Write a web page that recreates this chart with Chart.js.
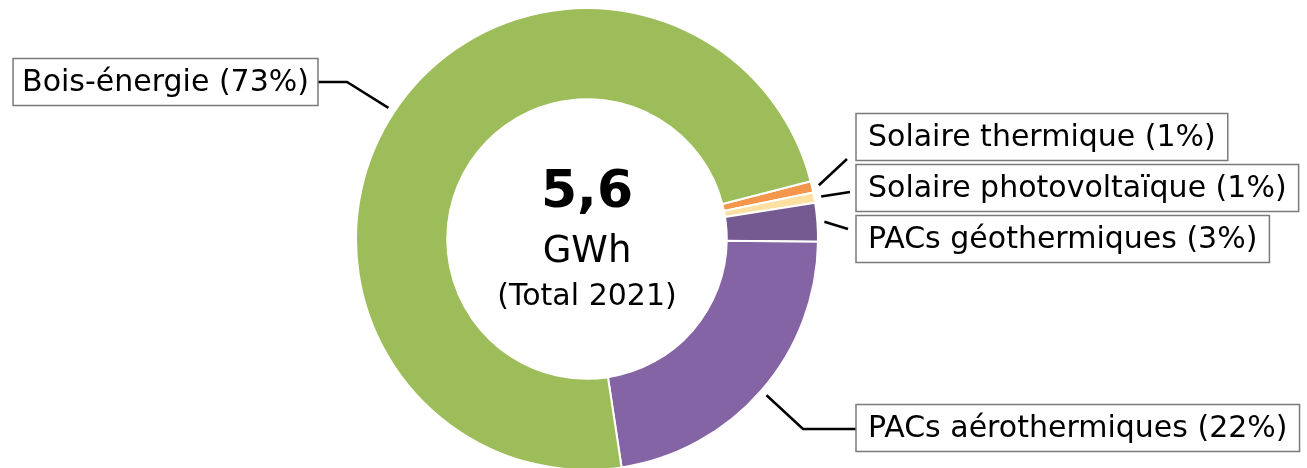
<!DOCTYPE html>
<html>
<head>
<meta charset="utf-8">
<script src="https://cdn.jsdelivr.net/npm/chart.js@4.4.0/dist/chart.umd.min.js"></script>
<style>
	html, body { margin: 0; padding: 0; background: #fff; }
	#wrap { width: 1307px; height: 468px; }
</style>
</head>
<body>
<div id="wrap"><canvas id="myChart" width="1307" height="468"></canvas></div>
<script>
// energy mix, 2021 (GWh) - slices go clockwise from the small solar ones
const categories = ['Solaire thermique', 'Solaire photovoltaïque', 'PACs géothermiques', 'PACs aérothermiques', 'Bois-énergie'];
const valuesGWh = [0.045, 0.04, 0.15, 1.25, 4.09];
const sliceColors = ['#f4974c', '#fde0a2', '#745a91', '#8464a5', '#9dbd5a'];
const totalYear = '2021';
const totalUnit = 'GWh';

// label boxes (text position only), leader line goes from the slice to these points
var labelLayout = [
	{ side: 'left', boxX: 856, boxY: 137, pad: 12, via: [[847, 159]] },
	{ side: 'left', boxX: 856, boxY: 188, pad: 12, via: [[850, 192]] },
	{ side: 'left', boxX: 856, boxY: 239, pad: 12, via: [[848, 229]] },
	{ side: 'left', boxX: 856, boxY: 428, pad: 12, via: [[803, 429], [856, 429]] },
	{ side: 'right', boxX: 318, boxY: 82, pad: 9, via: [[347, 82], [318, 82]] }
];

const total = valuesGWh.reduce((a, b) => a + b, 0);

const labelsPlugin = {
	id: 'pieLabels',
	afterDraw(chart) {
		const ctx = chart.ctx;
		const meta = chart.getDatasetMeta(0);
		ctx.save();
		meta.data.forEach((arc, i) => {
			const p = arc.getProps(['x', 'y', 'startAngle', 'endAngle', 'outerRadius'], true);
			const mid = (p.startAngle + p.endAngle) / 2;
			const r = p.outerRadius + 7;
			const sx = p.x + Math.cos(mid) * r;
			const sy = p.y + Math.sin(mid) * r;
			const lay = labelLayout[i];

			// leader line
			ctx.strokeStyle = '#000';
			ctx.lineWidth = 2.5;
			ctx.beginPath();
			ctx.moveTo(sx, sy);
			for (const pt of lay.via) ctx.lineTo(pt[0], pt[1]);
			ctx.stroke();

			// boxed label
			const pct = Math.round(valuesGWh[i] / total * 100);
			const text = categories[i] + ' (' + pct + '%)';
			ctx.font = '30px "DejaVu Sans"';
			const w = ctx.measureText(text).width + 2 * lay.pad;
			const h = 47;
			const left = lay.side === 'left' ? lay.boxX : lay.boxX - w;
			const top = lay.boxY - h / 2;
			ctx.fillStyle = '#fff';
			ctx.fillRect(left, top, w, h);
			ctx.strokeStyle = '#7a7a7a';
			ctx.lineWidth = 1.5;
			ctx.strokeRect(left, top, w, h);
			ctx.fillStyle = '#000';
			ctx.textAlign = 'left';
			ctx.textBaseline = 'middle';
			ctx.fillText(text, left + lay.pad, lay.boxY + 1);
		});

		// total in the hole
		const c = meta.data[0];
		ctx.textAlign = 'center';
		ctx.textBaseline = 'alphabetic';
		ctx.fillStyle = '#000';
		ctx.font = 'bold 52px "DejaVu Sans"';
		ctx.fillText(total.toFixed(1).replace('.', ','), c.x, c.y - 32);
		ctx.font = '37px "DejaVu Sans"';
		ctx.fillText(totalUnit, c.x, c.y + 23);
		ctx.font = '30px "DejaVu Sans"';
		ctx.fillText('(Total ' + totalYear + ')', c.x, c.y + 66);
		ctx.restore();
	}
};

new Chart(document.getElementById('myChart'), {
	type: 'doughnut',
	data: {
		labels: categories,
		datasets: [{
			data: valuesGWh,
			backgroundColor: sliceColors,
			borderColor: '#fff',
			borderWidth: 2,
			radius: 231,
			cutout: '60.5%'
		}]
	},
	options: {
		responsive: false,
		animation: false,
		rotation: 75.5,
		layout: { padding: { left: 0, right: 133, top: 10, bottom: 0 } },
		plugins: {
			legend: { display: false },
			tooltip: { enabled: false }
		}
	},
	plugins: [labelsPlugin]
});
</script>
</body>
</html>
